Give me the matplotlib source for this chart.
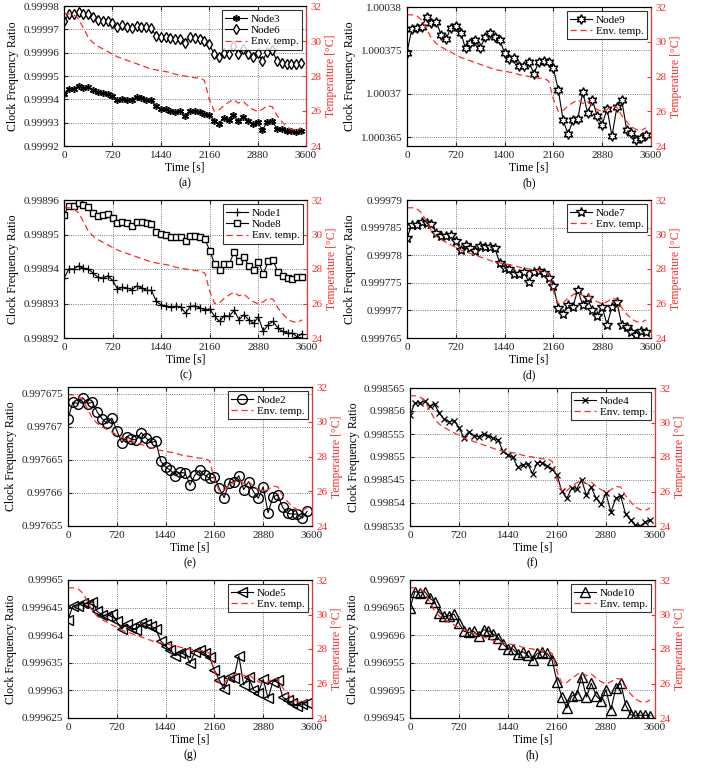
#!/usr/bin/env python
"""Clock frequency ratio of ten nodes vs. environment temperature (8 panels)."""
import numpy as np
import matplotlib
matplotlib.use('Agg')
import matplotlib.pyplot as plt

plt.rcParams['font.family'] = 'serif'
plt.rcParams['font.serif'] = ['Liberation Serif', 'DejaVu Serif']
plt.rcParams['mathtext.fontset'] = 'stix'

# sample times [s], one sample every 72 s
time_s = np.arange(0, 3600, 72)

env_temp = [31.55, 31.55, 31.5, 31.25, 30.75, 30.2, 29.9, 29.7, 29.55, 29.4,
            29.25, 29.1, 29.0, 28.9, 28.8, 28.7, 28.6, 28.5, 28.4, 28.35,
            28.3, 28.25, 28.2, 28.1, 28.05, 28.0, 27.95, 27.9, 27.9, 27.75,
            26.7, 26.0, 26.05, 26.3, 26.5, 26.65, 26.45, 26.55, 26.3, 26.1,
            25.97, 26.1, 26.3, 26.25, 25.75, 25.4, 25.1, 24.95, 24.9, 25.05]

node3 = [0.9999423, 0.9999443, 0.9999443, 0.9999459, 0.999945, 0.9999453, 0.9999439, 0.9999431, 0.9999426, 0.9999423,
         0.9999415, 0.9999396, 0.9999403, 0.9999399, 0.9999399, 0.999941, 0.9999404, 0.9999399, 0.9999396, 0.9999371,
         0.999936, 0.9999357, 0.9999349, 0.9999344, 0.9999348, 0.9999329, 0.9999352, 0.9999349, 0.9999344, 0.9999337,
         0.9999333, 0.9999308, 0.9999294, 0.9999321, 0.9999313, 0.9999333, 0.9999305, 0.9999326, 0.9999308, 0.9999293,
         0.9999302, 0.9999269, 0.9999302, 0.9999308, 0.9999274, 0.9999271, 0.9999266, 0.9999264, 0.9999261, 0.9999264]
node6 = [0.9999734, 0.9999764, 0.9999767, 0.9999773, 0.9999767, 0.9999764, 0.9999751, 0.999974, 0.9999737, 0.9999737,
         0.9999729, 0.999971, 0.999972, 0.999971, 0.9999705, 0.9999713, 0.999971, 0.999971, 0.9999705, 0.9999672,
         0.9999666, 0.9999666, 0.9999662, 0.9999658, 0.9999658, 0.9999643, 0.9999666, 0.9999662, 0.9999658, 0.9999651,
         0.9999635, 0.9999596, 0.999958, 0.9999599, 0.9999596, 0.9999627, 0.9999596, 0.9999616, 0.9999596, 0.999958,
         0.9999599, 0.9999564, 0.9999603, 0.9999611, 0.9999564, 0.9999556, 0.9999553, 0.9999553, 0.9999553, 0.9999556]
node9 = [1.00037473, 1.00037752, 1.0003776, 1.00037771, 1.00037885, 1.00037821, 1.00037828, 1.00037676, 1.00037626, 1.00037763,
         1.00037782, 1.00037706, 1.00037523, 1.0003758, 1.00037618, 1.00037531, 1.00037649, 1.00037695, 1.00037656, 1.00037618,
         1.00037473, 1.00037397, 1.00037408, 1.00037321, 1.00037321, 1.0003737, 1.00037229, 1.0003737, 1.00037378, 1.0003737,
         1.00037294, 1.00037046, 1.00036695, 1.00036538, 1.00036695, 1.0003671, 1.00037027, 1.00036779, 1.00036931, 1.0003674,
         1.00036645, 1.00036828, 1.00036511, 1.00036847, 1.00036931, 1.00036588, 1.0003655, 1.00036466, 1.00036492, 1.00036531]
node1 = [0.9989373, 0.99894, 0.99894, 0.9989409, 0.9989402, 0.99894, 0.9989388, 0.9989376, 0.9989373, 0.998938,
         0.9989367, 0.9989342, 0.9989347, 0.9989345, 0.998934, 0.9989351, 0.9989345, 0.9989338, 0.9989338, 0.9989306,
         0.9989296, 0.9989293, 0.998929, 0.9989292, 0.998929, 0.9989272, 0.9989292, 0.9989293, 0.9989287, 0.9989282,
         0.9989284, 0.9989263, 0.9989248, 0.9989265, 0.9989263, 0.998928, 0.9989253, 0.9989267, 0.9989253, 0.9989243,
         0.9989261, 0.9989219, 0.9989239, 0.9989248, 0.9989229, 0.9989219, 0.9989214, 0.9989214, 0.9989203, 0.9989213]
node8 = [0.9989557, 0.9989584, 0.9989584, 0.998959, 0.9989586, 0.9989579, 0.9989561, 0.9989555, 0.9989557, 0.998956,
         0.9989549, 0.9989533, 0.9989535, 0.9989533, 0.9989525, 0.9989537, 0.9989537, 0.9989533, 0.9989531, 0.9989508,
         0.9989502, 0.9989499, 0.9989492, 0.9989492, 0.9989492, 0.998948, 0.9989496, 0.9989497, 0.9989494, 0.9989486,
         0.9989453, 0.9989414, 0.9989398, 0.9989414, 0.9989414, 0.9989449, 0.9989422, 0.9989436, 0.9989409, 0.9989398,
         0.998942, 0.9989385, 0.9989422, 0.9989427, 0.998939, 0.998938, 0.9989375, 0.9989371, 0.9989376, 0.9989376]
node7 = [0.9997832, 0.9997855, 0.9997855, 0.9997861, 0.9997858, 0.9997857, 0.999784, 0.9997835, 0.9997834, 0.9997837,
         0.9997825, 0.999781, 0.9997819, 0.9997813, 0.9997807, 0.9997816, 0.9997814, 0.9997814, 0.9997813, 0.9997786,
         0.9997777, 0.9997775, 0.9997766, 0.9997766, 0.9997769, 0.9997751, 0.999777, 0.9997772, 0.9997767, 0.9997758,
         0.9997745, 0.9997704, 0.9997693, 0.999771, 0.9997707, 0.9997737, 0.999771, 0.9997722, 0.99977, 0.9997689,
         0.9997706, 0.9997674, 0.9997706, 0.9997716, 0.9997674, 0.999767, 0.999766, 0.9997655, 0.9997662, 0.999766]
node2 = [0.9976712, 0.9976737, 0.9976735, 0.9976744, 0.9976735, 0.9976737, 0.9976722, 0.9976712, 0.9976705, 0.9976713,
         0.9976694, 0.9976676, 0.9976685, 0.9976681, 0.997668, 0.9976691, 0.9976683, 0.9976676, 0.9976678, 0.9976648,
         0.9976639, 0.9976634, 0.9976626, 0.9976631, 0.997663, 0.9976612, 0.9976627, 0.9976634, 0.9976627, 0.9976622,
         0.9976624, 0.9976607, 0.9976593, 0.9976615, 0.9976617, 0.9976626, 0.9976605, 0.9976617, 0.9976602, 0.9976592,
         0.9976609, 0.997657, 0.9976594, 0.9976597, 0.9976578, 0.9976569, 0.9976568, 0.9976568, 0.9976562, 0.9976572]
node4 = [0.9985591, 0.9985618, 0.9985617, 0.9985622, 0.9985611, 0.9985615, 0.9985595, 0.9985582, 0.9985577, 0.9985579,
         0.9985564, 0.9985542, 0.9985555, 0.9985546, 0.9985544, 0.9985551, 0.9985546, 0.9985541, 0.9985537, 0.9985512,
         0.9985504, 0.9985499, 0.9985478, 0.9985483, 0.9985485, 0.9985464, 0.9985488, 0.9985488, 0.998548, 0.9985473,
         0.9985461, 0.9985425, 0.998541, 0.9985432, 0.998543, 0.9985451, 0.9985417, 0.9985434, 0.998541, 0.9985397,
         0.9985421, 0.998538, 0.998541, 0.9985415, 0.9985376, 0.9985363, 0.9985352, 0.998535, 0.9985359, 0.9985363]
node5 = [0.9996428, 0.9996453, 0.9996453, 0.9996458, 0.9996457, 0.9996461, 0.9996443, 0.9996437, 0.9996434, 0.9996439,
         0.9996425, 0.9996411, 0.999642, 0.9996413, 0.999641, 0.9996423, 0.999642, 0.9996417, 0.9996411, 0.999639,
         0.999638, 0.9996373, 0.9996363, 0.9996367, 0.999637, 0.9996349, 0.999637, 0.9996373, 0.9996367, 0.999636,
         0.9996337, 0.9996319, 0.9996302, 0.9996325, 0.9996322, 0.9996363, 0.999631, 0.9996325, 0.9996301, 0.9996296,
         0.999632, 0.9996286, 0.9996316, 0.9996319, 0.9996288, 0.9996282, 0.9996277, 0.9996272, 0.9996276, 0.9996278]
node10 = [0.9969649, 0.9969679, 0.9969677, 0.9969679, 0.9969667, 0.9969661, 0.9969641, 0.9969634, 0.9969635, 0.9969638,
          0.9969622, 0.9969607, 0.9969605, 0.9969607, 0.9969598, 0.996961, 0.9969608, 0.9969602, 0.9969595, 0.9969584,
          0.9969575, 0.9969575, 0.9969566, 0.996957, 0.9969564, 0.9969555, 0.9969567, 0.996957, 0.9969567, 0.9969555,
          0.9969516, 0.9969488, 0.9969468, 0.996949, 0.9969492, 0.9969525, 0.9969488, 0.9969513, 0.996949, 0.9969481,
          0.9969501, 0.9969465, 0.9969504, 0.9969513, 0.9969474, 0.9969456, 0.9969455, 0.9969455, 0.9969455, 0.9969454]

x_ticks = [0, 720, 1440, 2160, 2880, 3600]
x_labels = ['0', '720', '1440', '2160', '2880', '3600']
x_labels_b = ['0', '720', '1400', '2160', '2880', '3600']

yt_a = ['0.99992', '0.99993', '0.99994', '0.99995', '0.99996', '0.99997', '0.99998']
yt_b = ['1.000365', '1.00037', '1.000375', '1.00038']
yt_c = ['0.99892', '0.99893', '0.99894', '0.99895', '0.99896']
yt_d = ['0.999765', '0.99977', '0.999775', '0.99978', '0.999785', '0.99979']
yt_e = ['0.997655', '0.99766', '0.997665', '0.99767', '0.997675']
yt_f = ['0.998535', '0.99854', '0.998545', '0.99855', '0.998555', '0.99856', '0.998565']
yt_g = ['0.999625', '0.99963', '0.999635', '0.99964', '0.999645', '0.99965']
yt_h = ['0.996945', '0.99695', '0.996955', '0.99696', '0.996965', '0.99697']

RED = '#ff2a2a'

asterisk = dict(marker=(6, 2, 0), ms=5, mew=1.1)
diamond = dict(marker='d', ms=5, mfc='white')
hexagram = dict(marker=(6, 1, 0), ms=7, mfc='white')
plus = dict(marker='+', ms=5.5, mew=0.9)
square = dict(marker='s', ms=4.5, mfc='white')
star = dict(marker='*', ms=7, mfc='white')
circle = dict(marker='o', ms=7, mfc='none')
cross = dict(marker='x', ms=4.5, mew=0.9)
ltri = dict(marker='<', ms=7, mfc='none')
utri = dict(marker='^', ms=7, mfc='none')

# (series, ylim, ytick labels, x labels, [left, top, right, bottom] in px, caption)
panels = [
    ([('Node3', node3, asterisk), ('Node6', node6, diamond)], (0.99992, 0.99998), yt_a, x_labels, (64, 6, 306, 146), '(a)'),
    ([('Node9', node9, hexagram)], (1.000364, 1.00038), yt_b, x_labels_b, (407, 7, 651, 146), '(b)'),
    ([('Node1', node1, plus), ('Node8', node8, square)], (0.99892, 0.99896), yt_c, x_labels, (64, 200, 307, 338), '(c)'),
    ([('Node7', node7, star)], (0.999765, 0.99979), yt_d, x_labels, (407, 200, 651, 338), '(d)'),
    ([('Node2', node2, circle)], (0.997655, 0.997676), yt_e, x_labels, (68, 387, 312, 526), '(e)'),
    ([('Node4', node4, cross)], (0.998535, 0.998565), yt_f, x_labels, (410, 388, 655, 526), '(f)'),
    ([('Node5', node5, ltri)], (0.999625, 0.99965), yt_g, x_labels, (68, 580, 312, 718), '(g)'),
    ([('Node10', node10, utri)], (0.996945, 0.99697), yt_h, x_labels, (410, 580, 655, 718), '(h)'),
]

W, H = 709, 768
fig = plt.figure(figsize=(W / 100, H / 100), dpi=100)

for series, ylim, ylabels, xlabels, (l, t, r, b), caption in panels:
    ax = fig.add_axes([l / W, (H - b) / H, (r - l) / W, (b - t) / H])
    handles = []
    for name, vals, mk in series:
        h, = ax.plot(time_s, vals, color='black', lw=0.8, mec='black', label=name, **mk)
        handles.append(h)
    ax.set_xlim(0, 3600)
    ax.set_ylim(*ylim)
    ax.set_xticks(x_ticks)
    ax.set_xticklabels(xlabels)
    ax.set_yticks([float(s) for s in ylabels])
    ax.set_yticklabels(ylabels)
    ax.grid(True, linestyle=':', color='#555555', linewidth=0.6)
    ax.tick_params(direction='in', labelsize=8, length=3, top=True, colors='#222222')
    ax.set_xlabel('Time [s]', fontsize=8.5, labelpad=1)
    ax.set_ylabel('Clock Frequency Ratio', fontsize=8.5, labelpad=3)
    ax.annotate(caption, xy=(0.5, 0), xycoords='axes fraction', xytext=(0, -37),
                textcoords='offset pixels', ha='center', va='center', fontsize=8.5)

    ax2 = ax.twinx()
    ht, = ax2.plot(time_s, env_temp, color=RED, lw=0.9, ls=(0, (5, 3)), label='Env. temp.')
    ax2.set_ylim(24, 32)
    ax2.set_yticks([24, 26, 28, 30, 32])
    ax2.tick_params(direction='in', labelsize=8, length=3, colors=RED)
    ax2.spines['right'].set_color(RED)
    ax2.set_ylabel('Temperature [°C]', fontsize=8.5, color=RED, labelpad=2)
    handles.append(ht)

    leg = ax2.legend(handles=handles, loc='upper right', fontsize=8, frameon=True, fancybox=False,
                     edgecolor='black', borderpad=0.3, labelspacing=0.15, handlelength=2.0,
                     handletextpad=0.3, borderaxespad=0.4)
    leg.get_frame().set_linewidth(0.8)

fig.savefig('out.png', dpi=100)
